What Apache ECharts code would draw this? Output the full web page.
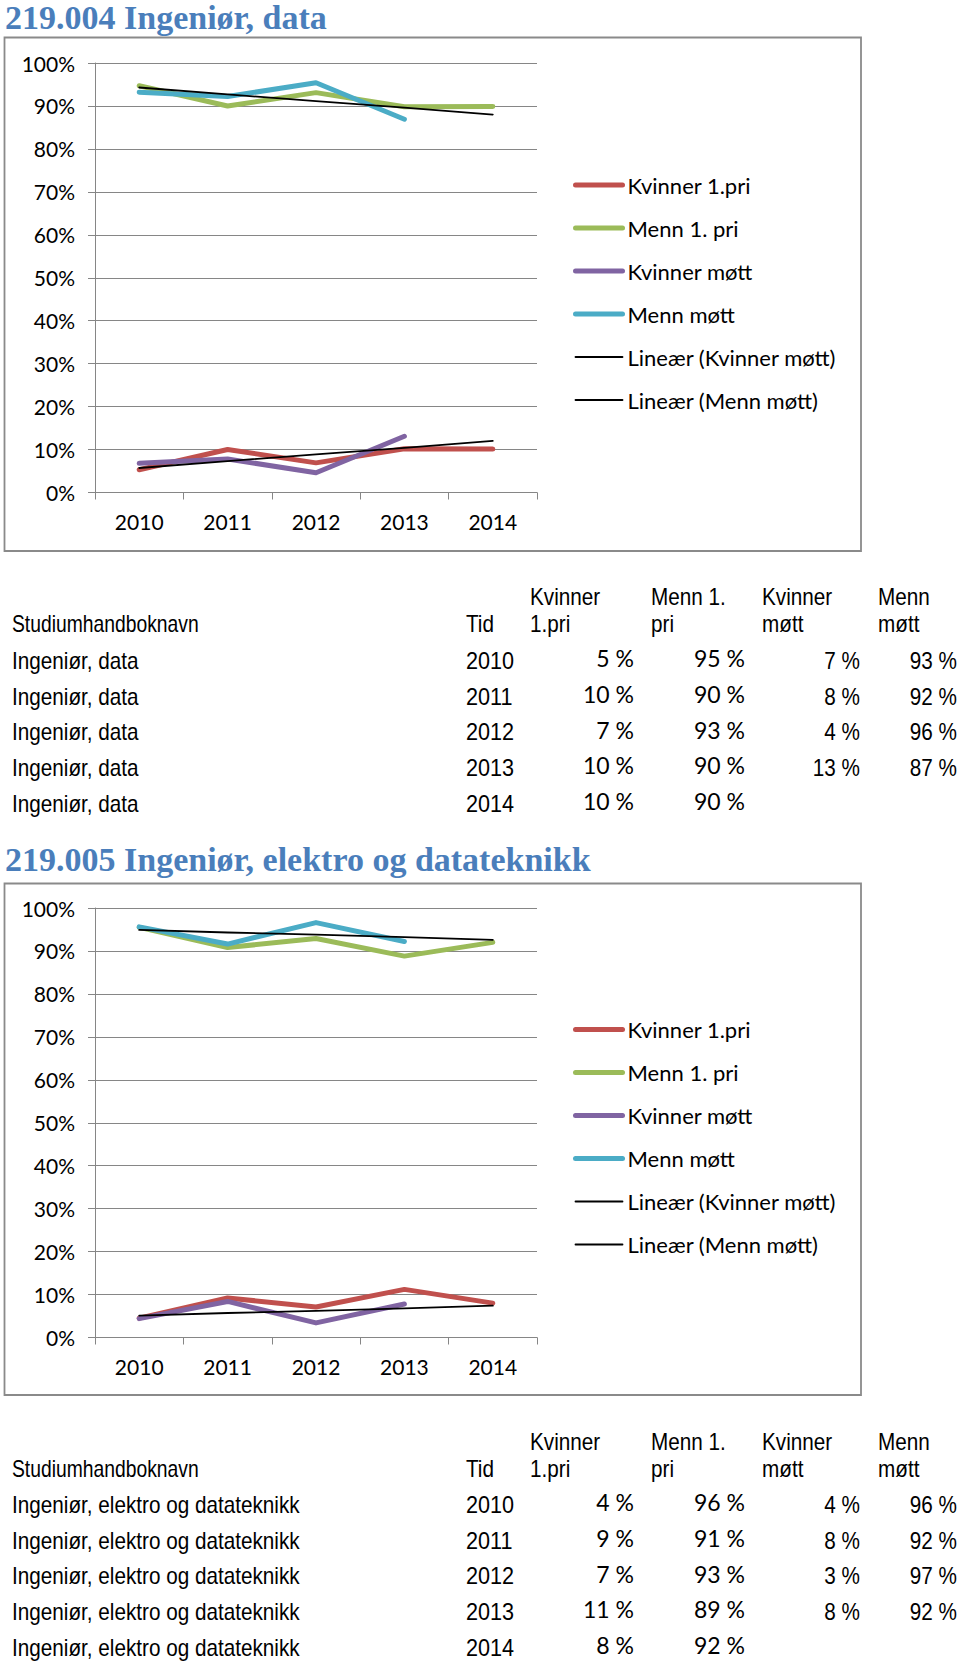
<!DOCTYPE html>
<html><head><meta charset="utf-8">
<script src="https://cdn.jsdelivr.net/npm/echarts@6/dist/echarts.min.js"></script>
<style>html,body{margin:0;padding:0;background:#fff}#c{width:960px;height:1664px}</style>
</head><body><div id="c"></div>
<script>
// ---------- data ----------
const years = ['2010', '2011', '2012', '2013', '2014'];
const seriesNames = ['Kvinner 1.pri', 'Menn 1. pri', 'Kvinner møtt', 'Menn møtt', 'Lineær (Kvinner møtt)', 'Lineær (Menn møtt)'];
const seriesColors = ['#C0504D', '#9BBB59', '#8064A2', '#4BACC6', '#000000', '#000000'];

// Chart 1: 219.004 Ingeniør, data
const c1Title = '219.004 Ingeniør, data';
const c1Kvinner1 = [5.3, 10.0, 6.9, 10.2, 10.1];
const c1Menn1 = [94.7, 90.0, 93.1, 89.8, 89.9];
const c1KvinnerMott = [6.8, 7.8, 4.6, 13.1, null];
const c1MennMott = [93.2, 92.2, 95.4, 86.9, null];
const c1TrendKvinner = [5.7, 7.3, 8.9, 10.4, 12.0];
const c1TrendMenn = [94.3, 92.7, 91.1, 89.6, 88.0];

// Chart 2: 219.005 Ingeniør, elektro og datateknikk
const c2Title = '219.005 Ingeniør, elektro og datateknikk';
const c2Kvinner1 = [4.5, 9.2, 7.1, 11.2, 8.0];
const c2Menn1 = [95.5, 90.8, 92.9, 88.8, 92.0];
const c2KvinnerMott = [4.4, 8.4, 3.4, 7.8, null];
const c2MennMott = [95.6, 91.6, 96.6, 92.2, null];
const c2TrendKvinner = [5.1, 5.7, 6.2, 6.8, 7.4];
const c2TrendMenn = [94.9, 94.3, 93.8, 93.2, 92.6];

// Tables
const tableHeadTop = ['', '', 'Kvinner', 'Menn 1.', 'Kvinner', 'Menn'];
const tableHeadBottom = ['Studiumhandboknavn', 'Tid', '1.pri', 'pri', 'møtt', 'møtt'];
const t1Name = 'Ingeniør, data';
const t1Kvinner1 = [5, 10, 7, 10, 10];
const t1Menn1 = [95, 90, 93, 90, 90];
const t1KvinnerMott = [7, 8, 4, 13, null];
const t1MennMott = [93, 92, 96, 87, null];
const t2Name = 'Ingeniør, elektro og datateknikk';
const t2Kvinner1 = [4, 9, 7, 11, 8];
const t2Menn1 = [96, 91, 93, 89, 92];
const t2KvinnerMott = [4, 8, 3, 8, null];
const t2MennMott = [96, 92, 97, 92, null];

// ---------- build ----------
const LBL = 'Lato, "Open Sans", sans-serif';
const NARROW = '"Liberation Sans", Arial, sans-serif';
const grids = [], xAxes = [], yAxes = [], series = [], legends = [], graphics = [];

function addChart(i, cfg) {
  grids.push({left: 95, top: cfg.top, width: 442, height: 429.5});
  xAxes.push({
    gridIndex: i, type: 'category', data: years, boundaryGap: true,
    axisLine: {show: true, lineStyle: {color: '#868686', width: 1}},
    axisTick: {show: true, length: 7, lineStyle: {color: '#868686'}},
    axisLabel: {color: '#000', fontFamily: LBL, fontSize: 21, margin: 18},
    splitLine: {show: false}
  });
  yAxes.push({
    gridIndex: i, type: 'value', min: 0, max: 100, interval: 10,
    axisLine: {show: true, lineStyle: {color: '#868686', width: 1}},
    axisTick: {show: true, length: 7, lineStyle: {color: '#868686'}},
    axisLabel: {color: '#000', fontFamily: LBL, fontSize: 21, margin: 20, formatter: '{value}%'},
    splitLine: {show: true, lineStyle: {color: '#868686', width: 1}}
  });
  const datas = [cfg.k1, cfg.m1, cfg.km, cfg.mm, cfg.tk, cfg.tm];
  datas.forEach((d, j) => {
    const trend = j >= 4;
    series.push({
      type: 'line', name: seriesNames[j], xAxisIndex: i, yAxisIndex: i, data: d,
      symbol: 'none', showSymbol: false, silent: true, connectNulls: false,
      z: trend ? 4 : 2,
      color: seriesColors[j],
      lineStyle: {color: seriesColors[j], width: trend ? 1.8 : 5, cap: 'round', join: 'round'}
    });
  });
  legends.push({
    data: seriesNames.map((n, j) => ({name: n, lineStyle: {width: j >= 4 ? 1.8 : 5, color: seriesColors[j], cap: 'round'}})),
    orient: 'vertical', left: 573, top: cfg.legendTop,
    itemWidth: 47, itemHeight: 14, itemGap: 21, padding: 0,
    selectedMode: false,
    itemStyle: {opacity: 0},
    textStyle: {color: '#000', fontFamily: LBL, fontSize: 22, padding: [0, 0, 0, 0]}
  });
  graphics.push({type: 'rect', shape: {x: 4.5, y: cfg.boxTop, width: 856.5, height: cfg.boxH},
    style: {fill: 'none', stroke: '#8a8a8a', lineWidth: 1.8}, z: 0});
  graphics.push({type: 'text', x: 5, y: cfg.titleY,
    style: {text: cfg.title, font: 'bold 34px "Liberation Serif", "DejaVu Serif", serif', fill: '#4A7EBB', align: 'left', verticalAlign: 'middle'}});
}

function addTable(cfg) {
  const txt = (s, x, y, align, font, sx) => graphics.push({type: 'text', x: x, y: y, scaleX: sx,
    style: {text: s, font: font, fill: '#000', align: align, verticalAlign: 'middle'}});
  const nf = '23px ' + NARROW;
  const lf = '23px ' + LBL;
  const NS = 0.9;
  const headX = [12, 466, 530, 651, 762, 878];
  tableHeadTop.forEach((s, j) => { if (s) txt(s, headX[j], cfg.h1, 'left', nf, NS); });
  tableHeadBottom.forEach((s, j) => txt(s, headX[j], cfg.h2, 'left', nf, j === 0 ? 0.84 : NS));
  years.forEach((yr, r) => {
    const y = cfg.row0 + r * cfg.rowH;
    txt(cfg.name, 12, y, 'left', nf, NS);
    txt(yr, 466, y, 'left', nf, 0.94);
    if (cfg.k1[r] != null) txt(cfg.k1[r] + ' %', 634, y - 3, 'right', lf, 1);
    if (cfg.m1[r] != null) txt(cfg.m1[r] + ' %', 745, y - 3, 'right', lf, 1);
    if (cfg.km[r] != null) txt(cfg.km[r] + ' %', 860, y, 'right', nf, NS);
    if (cfg.mm[r] != null) txt(cfg.mm[r] + ' %', 957, y, 'right', nf, NS);
  });
}

addChart(0, {top: 63, legendTop: 174, boxTop: 37.5, boxH: 513.5, titleY: 17, title: c1Title,
  k1: c1Kvinner1, m1: c1Menn1, km: c1KvinnerMott, mm: c1MennMott, tk: c1TrendKvinner, tm: c1TrendMenn});
addChart(1, {top: 908, legendTop: 1018.5, boxTop: 883.5, boxH: 511.5, titleY: 859, title: c2Title,
  k1: c2Kvinner1, m1: c2Menn1, km: c2KvinnerMott, mm: c2MennMott, tk: c2TrendKvinner, tm: c2TrendMenn});
addTable({h1: 597, h2: 624, row0: 661, rowH: 35.8, name: t1Name,
  k1: t1Kvinner1, m1: t1Menn1, km: t1KvinnerMott, mm: t1MennMott});
addTable({h1: 1442, h2: 1469, row0: 1505, rowH: 35.8, name: t2Name,
  k1: t2Kvinner1, m1: t2Menn1, km: t2KvinnerMott, mm: t2MennMott});

const chart = echarts.init(document.getElementById('c'), null, {renderer: 'svg'});
chart.setOption({
  backgroundColor: '#fff',
  animation: false,
  grid: grids, xAxis: xAxes, yAxis: yAxes, series: series, legend: legends,
  graphic: {elements: graphics}
});
</script></body></html>
